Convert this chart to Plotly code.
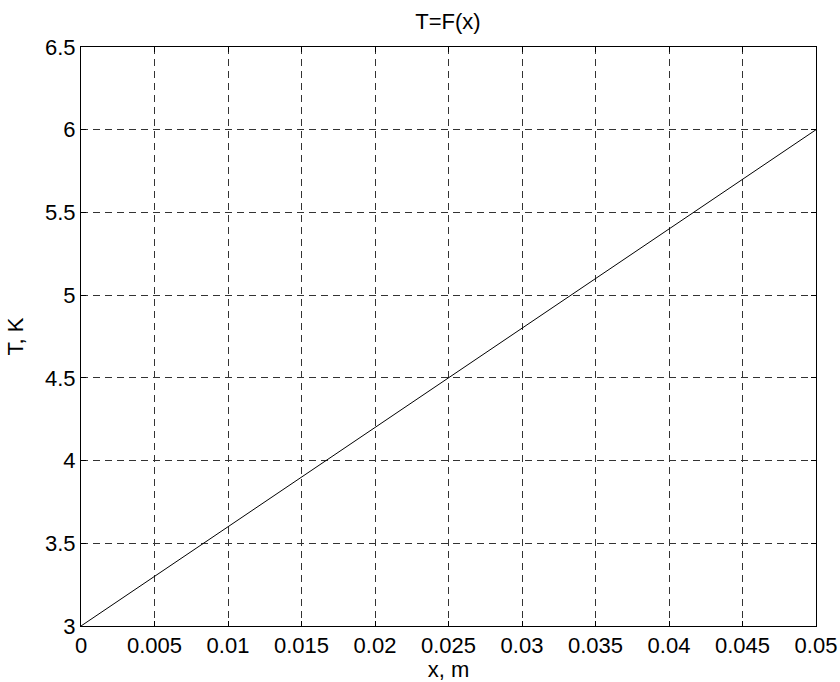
import plotly.graph_objects as go

# Data (T versus x)
x_m = [0.0, 0.0025, 0.005, 0.0075, 0.01, 0.0125, 0.015, 0.0175, 0.02, 0.0225,
       0.025, 0.0275, 0.03, 0.0325, 0.035, 0.0375, 0.04, 0.0425, 0.045, 0.0475, 0.05]
T_K = [3.0, 3.15, 3.3, 3.45, 3.6, 3.75, 3.9, 4.05, 4.2, 4.35,
       4.5, 4.65, 4.8, 4.95, 5.1, 5.25, 5.4, 5.55, 5.7, 5.85, 6.0]

x_ticks = [0, 0.005, 0.01, 0.015, 0.02, 0.025, 0.03, 0.035, 0.04, 0.045, 0.05]
x_tick_labels = ["0", "0.005", "0.01", "0.015", "0.02", "0.025", "0.03", "0.035", "0.04", "0.045", "0.05"]
y_ticks = [3, 3.5, 4, 4.5, 5, 5.5, 6, 6.5]
y_tick_labels = ["3", "3.5", "4", "4.5", "5", "5.5", "6", "6.5"]

FONT = "Liberation Sans, Arial, sans-serif"
FS = 22

fig = go.Figure()
fig.add_trace(go.Scatter(x=x_m, y=T_K, mode="lines",
                         line=dict(color="black", width=1), showlegend=False))

axis_common = dict(
    showline=True, linecolor="black", linewidth=1, mirror="ticks",
    ticks="inside", ticklen=5, tickcolor="black", tickwidth=1,
    showgrid=True, gridcolor="#333333", gridwidth=1, griddash="7px,5px",
    zeroline=False, tickfont=dict(family=FONT, size=FS, color="black"),
    automargin=False,
)

fig.update_xaxes(range=[0, 0.05], tickvals=x_ticks, ticktext=x_tick_labels,
                 title=dict(text="x, m", font=dict(family=FONT, size=FS, color="black")),
                 **axis_common)
fig.update_yaxes(range=[3, 6.5], tickvals=y_ticks, ticktext=y_tick_labels,
                 title=dict(text="T, K", font=dict(family=FONT, size=FS, color="black")),
                 **axis_common)

fig.update_layout(
    width=840, height=682,
    margin=dict(l=81, r=24, t=47, b=56),
    paper_bgcolor="white", plot_bgcolor="white",
    title=dict(text="T=F(x)", x=448 / 840, xanchor="center", y=1 - 21 / 682, yanchor="middle",
               font=dict(family=FONT, size=FS, color="black")),
)

fig.write_html("out.html", config={"displayModeBar": False},
               post_script="document.body.style.margin='0';document.body.style.overflow='hidden';")
